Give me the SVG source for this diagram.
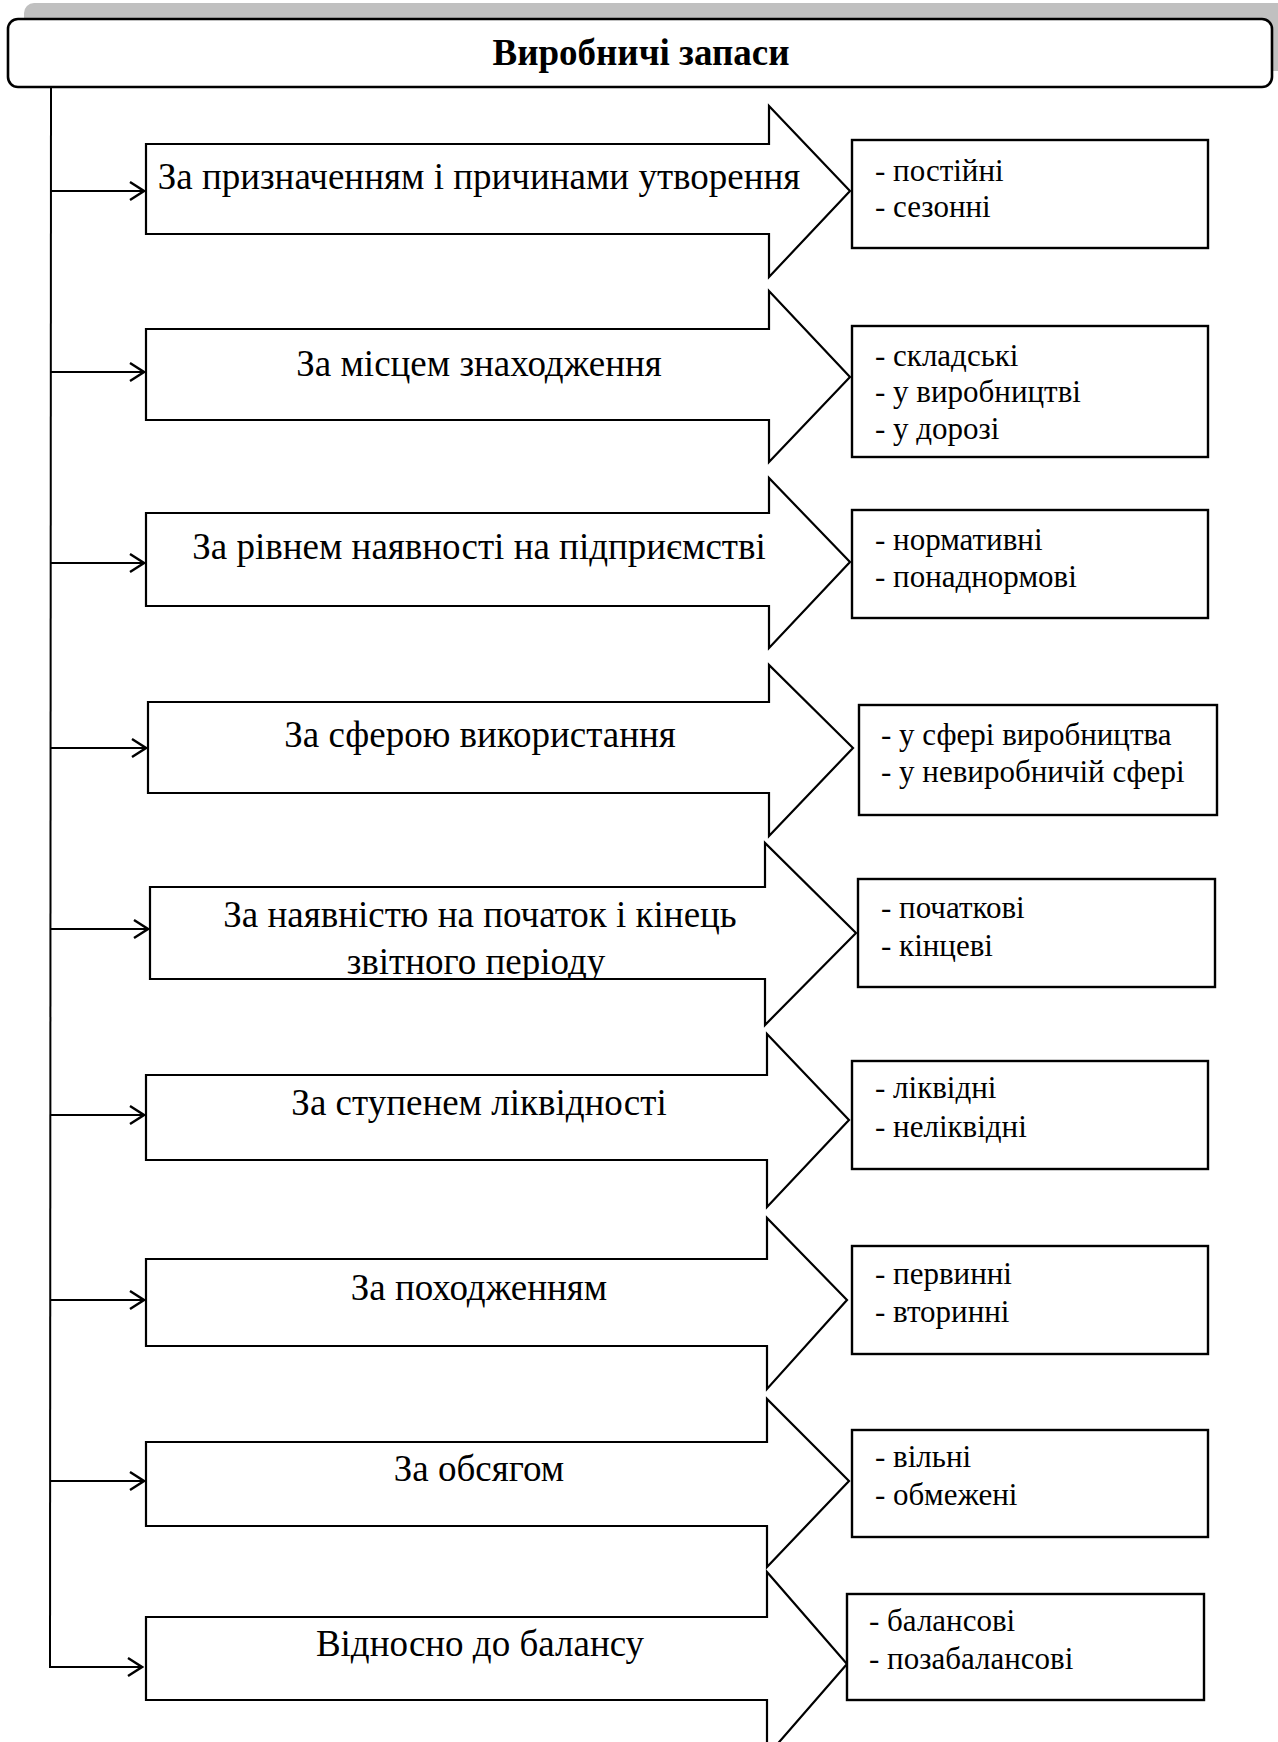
<svg xmlns="http://www.w3.org/2000/svg" width="1278" height="1742" viewBox="0 0 1278 1742">
<style>
.bg{fill:#fff}
.shape{fill:#fff;stroke:#000;stroke-width:2.2;stroke-linejoin:miter}
.res{fill:#fff;stroke:#000;stroke-width:2.4}
.t{font-family:"Liberation Serif","Times New Roman",serif;font-size:37px;fill:#000;text-anchor:middle}
.r{font-family:"Liberation Serif","Times New Roman",serif;font-size:31px;fill:#000}
.h{font-family:"Liberation Serif","Times New Roman",serif;font-size:37px;font-weight:bold;fill:#000;text-anchor:middle}
.c{fill:none;stroke:#000;stroke-width:2}
</style>
<defs>
<marker id="ah" markerUnits="userSpaceOnUse" markerWidth="18" markerHeight="22" refX="16" refY="11" orient="auto">
<path d="M2,2 L16,11 L2,20" fill="none" stroke="#000" stroke-width="2.4"/>
</marker>
<clipPath id="clip5"><rect x="150" y="886" width="620" height="92"/></clipPath>
</defs>
<rect class="bg" x="0" y="0" width="1278" height="1742"/>

<g id="header">
<rect x="24" y="3" width="1280" height="68" rx="10" fill="#c0c0c0"/>
<rect x="8" y="19" width="1264" height="68" rx="10" fill="#fff" stroke="#000" stroke-width="2.6"/>
<text class="h" x="641" y="65">Виробничі запаси</text>
</g>

<g id="connectors">
<line class="c" x1="51" y1="87" x2="50" y2="1668"/>
<line class="c" x1="51" y1="191" x2="144" y2="191" marker-end="url(#ah)"/>
<line class="c" x1="51" y1="372" x2="144" y2="372" marker-end="url(#ah)"/>
<line class="c" x1="51" y1="563" x2="144" y2="563" marker-end="url(#ah)"/>
<line class="c" x1="51" y1="748" x2="146" y2="748" marker-end="url(#ah)"/>
<line class="c" x1="51" y1="929" x2="148" y2="929" marker-end="url(#ah)"/>
<line class="c" x1="50" y1="1115" x2="144" y2="1115" marker-end="url(#ah)"/>
<line class="c" x1="50" y1="1300" x2="144" y2="1300" marker-end="url(#ah)"/>
<line class="c" x1="50" y1="1481" x2="144" y2="1481" marker-end="url(#ah)"/>
<line class="c" x1="50" y1="1667" x2="142" y2="1667" marker-end="url(#ah)"/>
</g>

<g id="n1">
<polygon class="shape" points="146,144 769,144 769,106 850,191 769,277 769,234 146,234"/>
<text class="t" x="479" y="189">За призначенням і причинами утворення</text>
</g>
<g id="r1">
<rect class="res" x="852" y="140" width="356" height="108"/>
<text class="r" x="875" y="181">- постійні</text>
<text class="r" x="875" y="217">- сезонні</text>
</g>

<g id="n2">
<polygon class="shape" points="146,329 769,329 769,291 850,377 769,462 769,420 146,420"/>
<text class="t" x="479" y="376">За місцем знаходження</text>
</g>
<g id="r2">
<rect class="res" x="852" y="326" width="356" height="131"/>
<text class="r" x="875" y="366">- складські</text>
<text class="r" x="875" y="402">- у виробництві</text>
<text class="r" x="875" y="439">- у дорозі</text>
</g>

<g id="n3">
<polygon class="shape" points="146,513 769,513 769,478 850,562 769,648 769,606 146,606"/>
<text class="t" x="479" y="559">За рівнем наявності на підприємстві</text>
</g>
<g id="r3">
<rect class="res" x="852" y="510" width="356" height="108"/>
<text class="r" x="875" y="550">- нормативні</text>
<text class="r" x="875" y="587">- понаднормові</text>
</g>

<g id="n4">
<polygon class="shape" points="148,702 769,702 769,665 853,748 769,836 769,793 148,793"/>
<text class="t" x="480" y="747">За сферою використання</text>
</g>
<g id="r4">
<rect class="res" x="859" y="705" width="358" height="110"/>
<text class="r" x="881" y="745">- у сфері виробництва</text>
<text class="r" x="881" y="782">- у невиробничій сфері</text>
</g>

<g id="n5">
<polygon class="shape" points="150,887 765,887 765,843 856,933 765,1025 765,979 150,979"/>
<g clip-path="url(#clip5)">
<text class="t" x="480" y="927">За наявністю на початок і кінець</text>
<text class="t" x="476" y="974">звітного періоду</text>
</g>
<line x1="150" y1="979" x2="765" y2="979" stroke="#000" stroke-width="2.2"/>
</g>
<g id="r5">
<rect class="res" x="858" y="879" width="357" height="108"/>
<text class="r" x="881" y="918">- початкові</text>
<text class="r" x="881" y="956">- кінцеві</text>
</g>

<g id="n6">
<polygon class="shape" points="146,1075 767,1075 767,1034 849,1120 767,1207 767,1160 146,1160"/>
<text class="t" x="479" y="1115">За ступенем ліквідності</text>
</g>
<g id="r6">
<rect class="res" x="852" y="1061" width="356" height="108"/>
<text class="r" x="875" y="1098">- ліквідні</text>
<text class="r" x="875" y="1137">- неліквідні</text>
</g>

<g id="n7">
<polygon class="shape" points="146,1259 767,1259 767,1218 847,1300 767,1389 767,1346 146,1346"/>
<text class="t" x="479" y="1300">За походженням</text>
</g>
<g id="r7">
<rect class="res" x="852" y="1246" width="356" height="108"/>
<text class="r" x="875" y="1284">- первинні</text>
<text class="r" x="875" y="1322">- вторинні</text>
</g>

<g id="n8">
<polygon class="shape" points="146,1442 767,1442 767,1399 849,1481 767,1567 767,1526 146,1526"/>
<text class="t" x="479" y="1481">За обсягом</text>
</g>
<g id="r8">
<rect class="res" x="852" y="1430" width="356" height="107"/>
<text class="r" x="875" y="1467">- вільні</text>
<text class="r" x="875" y="1505">- обмежені</text>
</g>

<g id="n9">
<polygon class="shape" points="146,1617 767,1617 767,1572 847,1664 767,1756 767,1700 146,1700"/>
<text class="t" x="480" y="1656">Відносно до балансу</text>
</g>
<g id="r9">
<rect class="res" x="847" y="1594" width="357" height="106"/>
<text class="r" x="869" y="1631">- балансові</text>
<text class="r" x="869" y="1669">- позабалансові</text>
</g>
</svg>
